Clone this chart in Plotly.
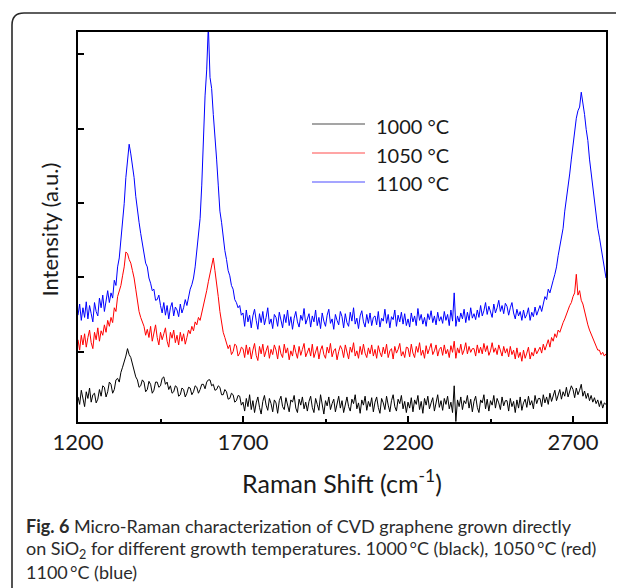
import plotly.graph_objects as go

# Raman shift sampling grid (cm^-1), every 5 cm^-1
wavenumber = list(range(1200, 2801, 5))

# 1000 °C (black)
int_1000 = [
    0.35, 0.25, 0.44, 0.30, 0.22, 0.42, 0.33, 0.47, 0.28, 0.38, 0.40, 0.27, 0.32, 0.45, 0.36, 0.50, 0.48, 0.35, 0.42, 0.55,
    0.52, 0.40, 0.45, 0.58, 0.60, 0.55, 0.68, 0.75, 0.82, 0.90, 1.00, 0.92, 0.88, 0.78, 0.72, 0.62, 0.58, 0.48, 0.50, 0.58,
    0.55, 0.42, 0.45, 0.56, 0.52, 0.40, 0.44, 0.55, 0.55, 0.48, 0.50, 0.60, 0.62, 0.52, 0.55, 0.45, 0.50, 0.40, 0.42, 0.50,
    0.48, 0.36, 0.38, 0.47, 0.45, 0.35, 0.40, 0.48, 0.47, 0.38, 0.42, 0.50, 0.48, 0.40, 0.45, 0.52, 0.52, 0.46, 0.55, 0.58,
    0.58, 0.50, 0.52, 0.44, 0.45, 0.50, 0.48, 0.38, 0.38, 0.45, 0.42, 0.32, 0.33, 0.40, 0.38, 0.28, 0.30, 0.37, 0.36, 0.24,
    0.28, 0.16, 0.33, 0.22, 0.38, 0.18, 0.30, 0.14, 0.27, 0.35, 0.21, 0.12, 0.29, 0.37, 0.24, 0.17, 0.33, 0.26, 0.15, 0.31,
    0.27, 0.13, 0.30, 0.36, 0.22, 0.18, 0.34, 0.25, 0.15, 0.31, 0.28, 0.37, 0.20, 0.14, 0.32, 0.24, 0.35, 0.19, 0.28, 0.16,
    0.29, 0.36, 0.21, 0.14, 0.33, 0.25, 0.17, 0.38, 0.27, 0.12, 0.30, 0.23, 0.35, 0.18, 0.26, 0.32, 0.15, 0.28, 0.36, 0.20,
    0.30, 0.14, 0.27, 0.35, 0.22, 0.16, 0.32, 0.26, 0.38, 0.19, 0.27, 0.13, 0.31, 0.24, 0.36, 0.17, 0.29, 0.22, 0.34, 0.15,
    0.28, 0.35, 0.21, 0.13, 0.33, 0.27, 0.18, 0.36, 0.24, 0.15, 0.30, 0.38, 0.22, 0.16, 0.32, 0.26, 0.37, 0.19, 0.29, 0.14,
    0.28, 0.20, 0.34, 0.15, 0.31, 0.25, 0.37, 0.18, 0.29, 0.13, 0.33, 0.24, 0.36, 0.19, 0.27, 0.34, 0.16, 0.30, 0.38, 0.21,
    0.30, 0.17, 0.33, 0.25, 0.36, 0.19, 0.28, 0.14, 0.50, 0.02, 0.31, 0.22, 0.35, 0.18, 0.30, 0.26, 0.37, 0.20, 0.32, 0.15,
    0.29, 0.36, 0.21, 0.14, 0.31, 0.27, 0.38, 0.19, 0.32, 0.16, 0.30, 0.24, 0.37, 0.20, 0.33, 0.27, 0.18, 0.35, 0.23, 0.30,
    0.30, 0.16, 0.33, 0.22, 0.29, 0.14, 0.31, 0.20, 0.35, 0.17, 0.27, 0.32, 0.21, 0.36, 0.24, 0.30, 0.19, 0.37, 0.26, 0.33,
    0.33, 0.22, 0.38, 0.27, 0.35, 0.25, 0.40, 0.29, 0.36, 0.44, 0.30, 0.38, 0.45, 0.32, 0.42, 0.36, 0.48, 0.35, 0.43, 0.50,
    0.45, 0.34, 0.47, 0.38, 0.44, 0.52, 0.36, 0.43, 0.33, 0.40, 0.30, 0.37, 0.28, 0.34, 0.26, 0.31, 0.22, 0.30, 0.20, 0.27,
    0.25,
]

# 1050 °C (red)
int_1050 = [
    1.12, 0.98, 1.18, 1.05, 1.20, 1.02, 1.15, 1.25, 1.08, 1.00, 1.22, 1.12, 1.28, 1.10, 1.24, 1.18, 1.32, 1.22, 1.38, 1.30,
    1.42, 1.35, 1.55, 1.50, 1.70, 1.78, 1.85, 1.98, 2.10, 2.30, 2.28, 2.20, 2.15, 2.05, 1.95, 1.80, 1.62, 1.50, 1.42, 1.35,
    1.30, 1.18, 1.26, 1.15, 1.30, 1.10, 1.24, 1.32, 1.15, 1.05, 1.22, 1.12, 1.20, 1.28, 1.10, 1.02, 1.22, 1.14, 1.25, 1.08,
    1.18, 1.05, 1.22, 1.10, 1.20, 1.06, 1.15, 1.25, 1.20, 1.30, 1.24, 1.36, 1.32, 1.42, 1.38, 1.48, 1.55, 1.65, 1.78, 1.90,
    2.00, 2.12, 2.22, 2.05, 1.90, 1.70, 1.50, 1.35, 1.22, 1.15, 1.08, 1.00, 1.05, 0.92, 0.96, 1.06, 1.04, 0.90, 0.94, 1.02,
    1.00, 0.88, 1.05, 0.92, 1.02, 0.86, 0.98, 1.07, 0.91, 0.84, 1.03, 0.93, 1.06, 0.89, 0.97, 1.04, 0.87, 0.99, 0.92, 1.05,
    0.98, 0.86, 1.04, 0.93, 0.88, 1.06, 0.94, 1.01, 0.85, 0.97, 0.90, 1.05, 0.95, 0.87, 1.03, 0.91, 0.99, 1.07, 0.89, 0.96,
    1.01, 0.90, 1.06, 0.88, 0.95, 1.03, 0.86, 0.98, 1.04, 0.92, 0.87, 1.02, 0.94, 1.07, 0.89, 0.97, 1.00, 0.85, 0.96, 1.04,
    0.99, 0.88, 1.05, 0.93, 0.86, 1.02, 0.95, 1.08, 0.90, 0.97, 0.87, 1.03, 0.92, 1.06, 0.94, 0.88, 1.01, 0.93, 1.05, 0.90,
    0.99, 0.87, 1.04, 0.95, 0.89, 1.02, 0.93, 1.06, 0.88, 0.97, 1.00, 0.86, 1.03, 0.94, 0.99, 1.07, 0.90, 0.96, 0.88, 1.02,
    1.01, 0.89, 1.06, 0.94, 0.88, 1.03, 0.95, 1.08, 0.91, 0.98, 0.87, 1.04, 0.93, 1.00, 1.07, 0.92, 0.97, 1.05, 0.90, 0.99,
    1.02, 0.91, 1.05, 0.93, 0.99, 0.88, 1.04, 0.95, 1.10, 0.87, 1.01, 0.94, 1.06, 0.92, 0.98, 1.08, 0.93, 1.03, 0.95, 1.00,
    1.00, 0.90, 1.05, 0.94, 1.02, 0.93, 1.07, 0.96, 1.04, 0.91, 0.97, 1.08, 0.95, 1.01, 0.92, 1.05, 0.98, 0.90, 1.03, 0.94,
    1.00, 0.89, 1.03, 0.92, 0.98, 0.86, 1.01, 0.88, 0.95, 0.83, 0.98, 0.87, 0.94, 1.02, 0.86, 0.95, 0.90, 1.01, 0.93, 0.97,
    1.02, 0.94, 1.06, 0.98, 1.05, 1.12, 1.02, 1.15, 1.10, 1.20, 1.15, 1.25, 1.22, 1.30, 1.35, 1.40, 1.45, 1.52, 1.58, 1.62,
    1.70, 1.75, 2.00, 1.72, 1.78, 1.65, 1.60, 1.50, 1.40, 1.32, 1.25, 1.20, 1.15, 1.08, 1.05, 0.98, 0.98, 0.92, 0.95, 0.90,
    0.93,
]

# 1100 °C (blue)
int_1100 = [
    1.45, 1.60, 1.38, 1.55, 1.42, 1.63, 1.40, 1.58, 1.47, 1.36, 1.62, 1.50, 1.44, 1.68, 1.55, 1.72, 1.50, 1.64, 1.78, 1.62,
    1.75, 1.68, 1.92, 1.85, 2.10, 2.22, 2.45, 2.70, 2.95, 3.30, 3.55, 3.75, 3.62, 3.48, 3.30, 3.05, 2.85, 2.70, 2.55, 2.40,
    2.25, 2.15, 2.10, 1.95, 1.88, 1.78, 1.80, 1.65, 1.66, 1.72, 1.58, 1.48, 1.62, 1.45, 1.58, 1.40, 1.55, 1.62, 1.44, 1.56,
    1.52, 1.43, 1.60, 1.48, 1.55, 1.66, 1.58, 1.72, 1.80, 1.86, 1.95, 2.10, 2.30, 2.55, 2.75, 3.20, 3.85, 4.40, 4.75, 5.35,
    4.65, 4.50, 4.15, 3.90, 3.55, 3.20, 2.85, 2.70, 2.50, 2.32, 2.20, 2.05, 1.98, 1.85, 1.80, 1.66, 1.62, 1.55, 1.58, 1.45,
    1.48, 1.30, 1.52, 1.36, 1.45, 1.28, 1.44, 1.53, 1.38, 1.26, 1.47, 1.35, 1.50, 1.32, 1.42, 1.55, 1.33, 1.40, 1.27, 1.46,
    1.42, 1.30, 1.49, 1.37, 1.28, 1.46, 1.35, 1.52, 1.31, 1.43, 1.26, 1.41, 1.50, 1.36, 1.29, 1.45, 1.38, 1.54, 1.33, 1.40,
    1.47, 1.29, 1.44, 1.36, 1.52, 1.31, 1.42, 1.27, 1.48, 1.37, 1.30, 1.45, 1.53, 1.34, 1.40, 1.26, 1.46, 1.38, 1.32, 1.50,
    1.43, 1.28, 1.47, 1.35, 1.30, 1.49, 1.37, 1.55, 1.33, 1.41, 1.27, 1.44, 1.51, 1.36, 1.29, 1.46, 1.34, 1.48, 1.31, 1.42,
    1.44, 1.32, 1.50, 1.29, 1.41, 1.37, 1.53, 1.34, 1.46, 1.28, 1.43, 1.39, 1.52, 1.30, 1.45, 1.36, 1.49, 1.33, 1.47, 1.31,
    1.40, 1.29, 1.48, 1.36, 1.44, 1.31, 1.54, 1.38, 1.46, 1.33, 1.42, 1.30, 1.47, 1.39, 1.51, 1.35, 1.44, 1.32, 1.49, 1.37,
    1.43, 1.34, 1.50, 1.38, 1.46, 1.31, 1.52, 1.37, 1.75, 1.30, 1.44, 1.36, 1.48, 1.40, 1.53, 1.35, 1.49, 1.38, 1.55, 1.41,
    1.47, 1.39, 1.52, 1.42, 1.58, 1.44, 1.51, 1.62, 1.46, 1.57, 1.50, 1.42, 1.60, 1.48, 1.55, 1.65, 1.50, 1.58, 1.47, 1.61,
    1.57, 1.45, 1.55, 1.62, 1.48, 1.40, 1.53, 1.44, 1.50, 1.38, 1.52, 1.41, 1.46, 1.55, 1.38, 1.49, 1.43, 1.56, 1.45, 1.52,
    1.58, 1.50, 1.62, 1.70, 1.66, 1.80, 1.75, 1.85, 1.92, 2.00, 2.10, 2.25, 2.38, 2.50, 2.62, 2.85, 3.00, 3.20, 3.35, 3.55,
    3.75, 3.90, 4.10, 4.20, 4.25, 4.45, 4.32, 4.15, 3.95, 3.80, 3.55, 3.35, 3.15, 2.95, 2.80, 2.62, 2.50, 2.35, 2.25, 2.10,
    1.95,
]

series_names = ["1000 °C", "1050 °C", "1100 °C"]
series_values = [int_1000, int_1050, int_1100]
series_colors = ["#000000", "#ff0000", "#0000ff"]

for v in series_values:
    if len(v) != len(wavenumber):
        raise ValueError(f"length mismatch {len(v)} vs {len(wavenumber)}")

x_range = [1200, 2800]
y_range = [0.013, 5.26]

FONT = "Lato"
TXT = "#1a1a1a"

fig = go.Figure()
for name, vals, col in zip(series_names, series_values, series_colors):
    fig.add_trace(go.Scatter(
        x=wavenumber, y=vals, mode="lines", name=name,
        line=dict(color=col, width=1), showlegend=False,
        hoverinfo="skip",
    ))

# The page body has an 8px margin, so the figure is drawn offset by 8px.
OFF = 8
W, H = 616, 580
L, R, T, B = 70, 598, 24, 414
pw, ph = R - L, B - T


def xp(page_x):
    return (page_x - OFF - L) / pw


def yp(page_y):
    return (B - (page_y - OFF)) / ph


shapes = []
annotations = []

# legend drawn as line samples + labels
leg_rows = [124, 153, 182]
for name, col, ry in zip(series_names, series_colors, leg_rows):
    shapes.append(dict(type="line", xref="paper", yref="paper",
                       x0=xp(312), x1=xp(365), y0=yp(ry), y1=yp(ry),
                       line=dict(color=col, width=1.2), opacity=0.7))
    annotations.append(dict(xref="paper", yref="paper", x=xp(374), y=yp(ry + 1.5),
                            xanchor="left", yanchor="middle", showarrow=False,
                            text=name, font=dict(family=FONT, size=20, color=TXT)))

# rounded outer frame (open to the right and bottom)
rx, ry_ = 12 / pw, 12 / ph
x0, y0 = xp(12), yp(13)
path = (f"M {x0},{yp(620)} L {x0},{y0 - ry_} "
        f"Q {x0},{y0} {x0 + rx},{y0} L {xp(660)},{y0}")
shapes.append(dict(type="path", xref="paper", yref="paper", path=path,
                   line=dict(color="#2a2a2a", width=1.6)))

# axis titles
annotations.append(dict(xref="paper", yref="paper", x=0.5, y=yp(482),
                        xanchor="center", yanchor="middle", showarrow=False,
                        text="Raman Shift (cm<sup>-1</sup>)",
                        font=dict(family=FONT, size=25, color=TXT)))
annotations.append(dict(xref="paper", yref="paper", x=xp(48.5), y=yp(230),
                        xanchor="center", yanchor="middle", showarrow=False,
                        textangle=-90, text="Intensity (a.u.)",
                        font=dict(family=FONT, size=22, color=TXT)))

# caption (thin spaces before the degree sign, as in the original typesetting)
cap_lines = [
    "<b>Fig. 6</b> Micro-Raman characterization of CVD graphene grown directly",
    "on SiO<sub>2</sub> for different growth temperatures. 1000\u2009°C (black), 1050\u2009°C (red)",
    "1100\u2009°C (blue)",
]
cap_y = [526, 549, 572]
for t, cy in zip(cap_lines, cap_y):
    annotations.append(dict(xref="paper", yref="paper", x=xp(24), y=yp(cy),
                            xanchor="left", yanchor="middle", showarrow=False,
                            text=t, font=dict(family=FONT, size=18, color="#2b2b2b")))

fig.update_layout(
    width=W, height=H,
    margin=dict(l=L, r=W - R, t=T, b=H - B),
    paper_bgcolor="white", plot_bgcolor="white",
    showlegend=False,
    shapes=shapes, annotations=annotations,
    xaxis=dict(
        range=x_range, tickmode="linear", tick0=1200, dtick=500,
        ticks="inside", ticklen=6, tickwidth=2, tickcolor="black",
        minor=dict(dtick=250, tick0=1200, ticks="inside", ticklen=3,
                   tickwidth=2, tickcolor="black"),
        showline=True, linewidth=2, linecolor="black", mirror=True,
        showgrid=False, zeroline=False,
        tickfont=dict(family=FONT, size=22, color=TXT),
    ),
    yaxis=dict(
        range=y_range, tickmode="linear", tick0=0.96, dtick=1,
        ticks="inside", ticklen=6, tickwidth=2, tickcolor="black",
        showticklabels=False,
        showline=True, linewidth=2, linecolor="black", mirror=True,
        showgrid=False, zeroline=False,
    ),
)

fig.write_html("out.html")
